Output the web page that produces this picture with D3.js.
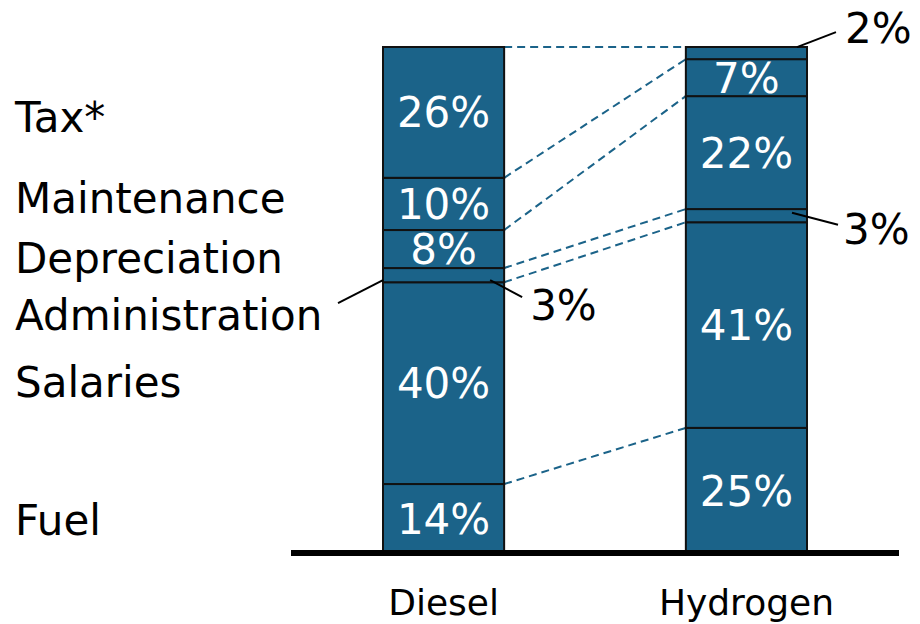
<!DOCTYPE html>
<html>
<head>
<meta charset="utf-8">
<script src="https://cdn.jsdelivr.net/npm/d3@7"></script>
<style>
  body { margin: 0; background: #fff; }
  svg { font-family: "DejaVu Sans", Verdana, sans-serif; }
  .seg { fill: #1b6389; stroke: #111; stroke-width: 2; }
  .inner { fill: #fff; font-size: 42px; text-anchor: middle; }
  .label { fill: #000; font-size: 42px; }
  .link { stroke: #1b6389; stroke-width: 2; stroke-dasharray: 8 5; fill: none; }
  .leader { stroke: #000; stroke-width: 2; }
</style>
</head>
<body>
<svg width="920" height="624"></svg>
<script>
const categories = ['Diesel', 'Hydrogen'];
const components = ['Fuel', 'Salaries', 'Administration', 'Depreciation', 'Maintenance', 'Tax*'];
// shares in % (labels are the rounded values)
const diesel = [13.8, 39.8, 2.8, 7.5, 10.3, 25.8];
const hydrogen = [24.9, 40.6, 2.6, 22.3, 7.3, 2.4];

const rows = [diesel, hydrogen].map((vals, i) => {
    const r = { bar: categories[i] };
    components.forEach((c, j) => r[c] = vals[j]);
    return r;
});

const svg = d3.select('svg');

const xScale = d3.scaleBand()
    .domain(categories)
    .range([383, 807])
    .paddingInner(0.6)
    .paddingOuter(0);

const yScale = d3.scaleLinear()
    .domain([0, 1])
    .range([554, 47]);

const series = d3.stack()
    .keys(components)
    .offset(d3.stackOffsetExpand)(rows);

// flatten into segments
const segs = [];
series.forEach((s) => {
    s.forEach((d) => {
        segs.push({
            key: s.key,
            bar: d.data.bar,
            value: d.data[s.key],
            y0: yScale(d[0]),
            y1: yScale(d[1])
        });
    });
});
segs.forEach((s) => s.mid = (s.y0 + s.y1) / 2);

// dashed links between the two bars at each boundary
const links = series.map((s) => [yScale(s[0][1]), yScale(s[1][1])]);
svg.append('g')
    .selectAll('line')
    .data(links)
    .enter()
    .append('line')
    .attr('class', 'link')
    .attr('x1', xScale('Diesel') + xScale.bandwidth())
    .attr('x2', xScale('Hydrogen'))
    .attr('y1', (d) => d[0])
    .attr('y2', (d) => d[1]);

svg.append('g')
    .selectAll('rect')
    .data(segs)
    .enter()
    .append('rect')
    .attr('class', 'seg')
    .attr('x', (d) => xScale(d.bar))
    .attr('y', (d) => d.y1)
    .attr('width', xScale.bandwidth())
    .attr('height', (d) => d.y0 - d.y1);

// labels inside segments that are tall enough
svg.append('g')
    .selectAll('text')
    .data(segs.filter((d) => d.y0 - d.y1 > 30))
    .enter()
    .append('text')
    .attr('class', 'inner')
    .attr('x', (d) => xScale(d.bar) + xScale.bandwidth() / 2)
    .attr('y', (d) => d.mid + 15)
    .text((d) => `${Math.round(d.value)}%`);

// callouts for thin segments
const callouts = [
    { bar: 'Diesel', key: 'Administration', sx: -14, sy: 5, ex: 18, ey: 22, tx: 26, ty: 45 },
    { bar: 'Hydrogen', key: 'Administration', sx: -15, sy: -3, ex: 31, ey: 9, tx: 36, ty: 28 },
    { bar: 'Hydrogen', key: 'Tax*', sx: -10, sy: -6, ex: 29, ey: -21, tx: 38, ty: -10 }
];
callouts.forEach((c) => {
    const s = segs.find((d) => d.bar === c.bar && d.key === c.key);
    const xr = xScale(c.bar) + xScale.bandwidth();
    svg.append('line')
        .attr('class', 'leader')
        .attr('x1', xr + c.sx)
        .attr('y1', s.mid + c.sy)
        .attr('x2', xr + c.ex)
        .attr('y2', s.mid + c.ey);
    svg.append('text')
        .attr('class', 'label')
        .attr('x', xr + c.tx)
        .attr('y', s.mid + c.ty)
        .text(`${Math.round(s.value)}%`);
});

// component names on the left, next to the diesel bar
const nudge = { 'Tax*': 5, 'Maintenance': -6, 'Depreciation': 9, 'Administration': 40, 'Salaries': -1, 'Fuel': 1 };
const dieselSegs = segs.filter((d) => d.bar === 'Diesel');
svg.append('g')
    .selectAll('text')
    .data(dieselSegs)
    .enter()
    .append('text')
    .attr('class', 'label')
    .attr('x', 15)
    .attr('y', (d) => d.mid + 15 + nudge[d.key])
    .text((d) => d.key);

const adm = dieselSegs.find((d) => d.key === 'Administration');
svg.append('line')
    .attr('class', 'leader')
    .attr('x1', xScale('Diesel') - 45)
    .attr('y1', adm.mid + 28)
    .attr('x2', xScale('Diesel'))
    .attr('y2', adm.mid + 5);

// baseline
svg.append('line')
    .attr('x1', 291)
    .attr('x2', 899)
    .attr('y1', yScale(0) - 1)
    .attr('y2', yScale(0) - 1)
    .attr('stroke', '#000')
    .attr('stroke-width', 6);

const xAxis = svg.append('g')
    .attr('transform', `translate(0, ${yScale(0)})`)
    .call(d3.axisBottom(xScale).tickSize(0));
xAxis.select('.domain').remove();
xAxis.selectAll('text')
    .attr('y', 61)
    .attr('dy', 0)
    .attr('fill', '#000')
    .style('font-size', '36px')
    .style('font-family', '"DejaVu Sans", Verdana, sans-serif');
</script>
</body>
</html>
